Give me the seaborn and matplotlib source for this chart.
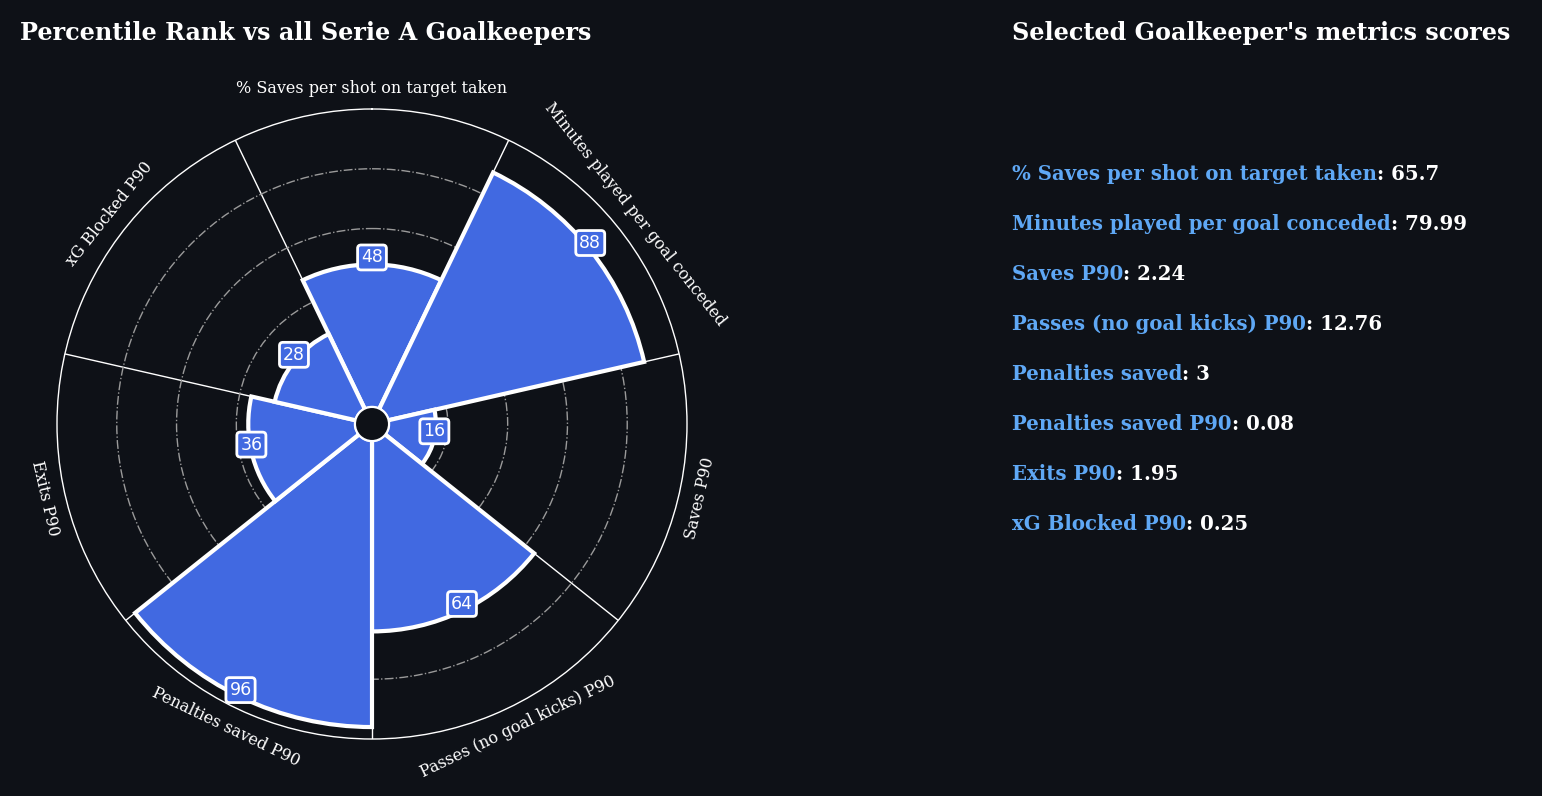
import numpy as np
import matplotlib
matplotlib.use("Agg")
import matplotlib.pyplot as plt
import seaborn as sns
from matplotlib.patches import Circle

# data
params = ["% Saves per shot on target taken", "Minutes played per goal conceded",
          "Saves P90", "Passes (no goal kicks) P90", "Penalties saved P90",
          "Exits P90", "xG Blocked P90"]
percentiles = [48, 88, 16, 64, 96, 36, 28]

metric_names = ["% Saves per shot on target taken", "Minutes played per goal conceded",
                "Saves P90", "Passes (no goal kicks) P90", "Penalties saved",
                "Penalties saved P90", "Exits P90", "xG Blocked P90"]
metric_values = ["65.7", "79.99", "2.24", "12.76", "3", "0.08", "1.95", "0.25"]

BG = "#0e1117"
BAR = "#4169e1"
BLUE = "#5fa8f5"

sns.set_theme(style="dark", rc={"figure.facecolor": BG, "axes.facecolor": BG,
                                "text.color": "white"})
plt.rcParams["font.family"] = ["DejaVu Serif"]

fig = plt.figure(figsize=(15.42, 7.96), dpi=100)
ax = fig.add_axes([57 / 1542, 57 / 796, 630 / 1542, 630 / 796], projection="polar")
ax.set_facecolor(BG)
ax.set_theta_zero_location("N")
ax.set_theta_direction(-1)

n = len(params)
step = 2 * np.pi / n
theta = np.arange(n) * step

ax.bar(theta, percentiles, width=step, bottom=0, color=BAR, edgecolor="white",
       linewidth=3, zorder=3)

ax.set_ylim(0, 100)
ax.set_rorigin(-5.4)
ax.set_xticks(theta + step / 2)
ax.set_xticklabels([])
ax.set_yticks([20, 40, 60, 80])
ax.set_yticklabels([])
ax.xaxis.grid(True, color="white", linewidth=1)
ax.yaxis.grid(True, color="#9a9a9a", linewidth=1, linestyle="-.")
ax.set_axisbelow(True)
ax.spines["polar"].set_color("white")
ax.spines["polar"].set_linewidth(1)

# value boxes (sit a little above the bar edge)
for t, v in zip(theta, percentiles):
    ax.annotate(str(v), xy=(t, v), xytext=(0, 5), textcoords="offset points",
                ha="center", va="center", fontsize=12.5, color="white",
                family="DejaVu Sans", zorder=6,
                bbox=dict(boxstyle="round,pad=0.2", fc=BAR, ec="white", lw=2))

# parameter labels around the circle
for t, p in zip(theta, params):
    rot = -np.degrees(t)
    if rot < -90 and rot > -270:
        rot += 180
    elif rot <= -270:
        rot += 360
    ax.text(t, 107, p, ha="center", va="center", rotation=rot,
            rotation_mode="anchor", fontsize=11.5, color="white", zorder=6)

ax.add_patch(Circle((0.5, 0.5), 17 / 630, transform=ax.transAxes, fc=BG,
                    ec="white", lw=1.5, zorder=10, clip_on=False))

fig.text(20 / 1542, 1 - 40 / 796, "Percentile Rank vs all Serie A Goalkeepers",
         fontsize=17.2, fontweight="bold", color="white", va="baseline")
fig.text(1012 / 1542, 1 - 40 / 796, "Selected Goalkeeper's metrics scores",
         fontsize=17.2, fontweight="bold", color="white", va="baseline")

for i, (name, val) in enumerate(zip(metric_names, metric_values)):
    y = 1 - (180 + 50 * i) / 796
    t1 = fig.text(1012 / 1542, y, name, fontsize=14.2, fontweight="bold",
                  color=BLUE, va="baseline")
    ax.annotate(": " + val, xy=(1, 0), xycoords=t1, ha="left", va="bottom",
                fontsize=14.2, fontweight="bold", color="white",
                annotation_clip=False)

fig.savefig("out.png", dpi=100, facecolor=BG)
